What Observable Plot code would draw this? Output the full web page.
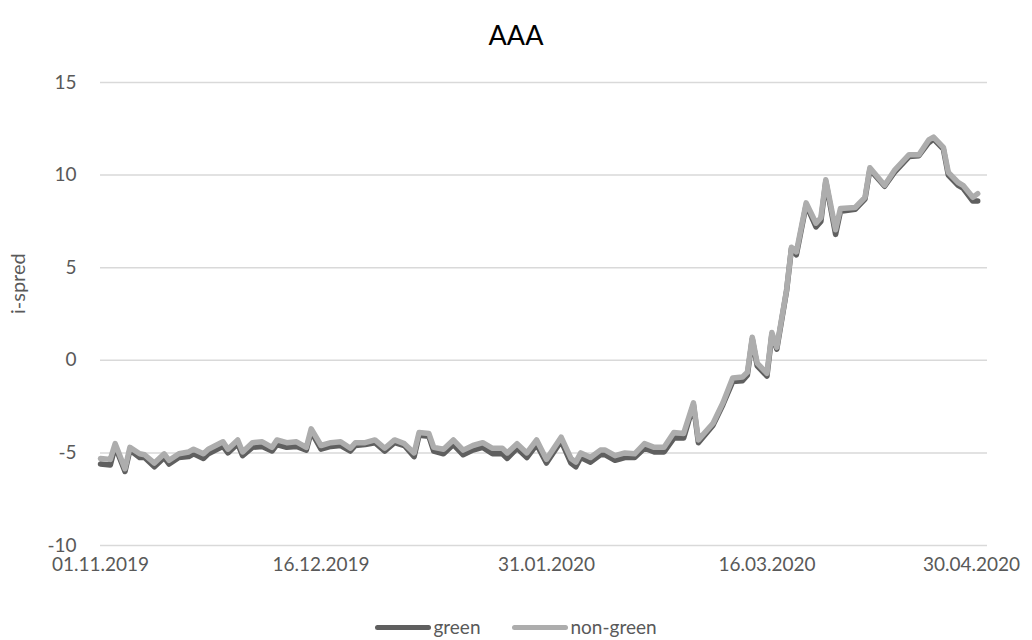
<!DOCTYPE html>
<html><head><meta charset="utf-8">
<script src="https://cdn.jsdelivr.net/npm/d3@7"></script>
<script src="https://cdn.jsdelivr.net/npm/@observablehq/plot@0.6"></script>
<style>
body{margin:0;background:#fff;font-family:Lato, sans-serif;}
#wrap{position:relative;width:1032px;height:640px;overflow:hidden;}
#title{position:absolute;top:0;left:0;width:1032px;height:70px;line-height:70px;text-align:center;font-size:27px;color:#000;}
#chart{position:absolute;top:70px;left:0;}
#legend{position:absolute;top:614px;left:0;width:1032px;height:26px;display:flex;justify-content:center;align-items:center;font-size:19px;color:#595959;line-height:22px;}
.item{display:inline-flex;align-items:center;margin:0 16px;line-height:22px;}
.swatch{display:inline-block;width:56px;height:5px;border-radius:3px;margin-right:2px;}
</style></head>
<body><div id="wrap"><div id="title">AAA</div><div id="chart"></div><div id="legend"></div></div>
<script>
const dates = [
"2019-11-01","2019-11-03","2019-11-04","2019-11-06","2019-11-07","2019-11-09","2019-11-10","2019-11-12","2019-11-14","2019-11-15",
"2019-11-17","2019-11-19","2019-11-20","2019-11-22","2019-11-23","2019-11-26","2019-11-27","2019-11-29","2019-11-30","2019-12-02",
"2019-12-04","2019-12-06","2019-12-07","2019-12-09","2019-12-11","2019-12-13","2019-12-14","2019-12-16","2019-12-18","2019-12-20",
"2019-12-22","2019-12-23","2019-12-25","2019-12-27","2019-12-29","2019-12-31","2020-01-02","2020-01-04","2020-01-05","2020-01-07",
"2020-01-08","2020-01-10","2020-01-12","2020-01-14","2020-01-16","2020-01-18","2020-01-20","2020-01-22","2020-01-23","2020-01-25",
"2020-01-27","2020-01-29","2020-01-31","2020-02-03","2020-02-05","2020-02-06","2020-02-07","2020-02-09","2020-02-11","2020-02-12",
"2020-02-14","2020-02-16","2020-02-18","2020-02-20","2020-02-22","2020-02-24","2020-02-26","2020-02-28","2020-03-01","2020-03-02",
"2020-03-05","2020-03-07","2020-03-09","2020-03-11","2020-03-12","2020-03-13","2020-03-14","2020-03-16","2020-03-17","2020-03-18",
"2020-03-20","2020-03-21","2020-03-22","2020-03-24","2020-03-26","2020-03-27","2020-03-28","2020-03-30","2020-03-31","2020-04-03",
"2020-04-05","2020-04-06","2020-04-09","2020-04-11","2020-04-14","2020-04-16","2020-04-18","2020-04-19","2020-04-21","2020-04-22",
"2020-04-24","2020-04-25","2020-04-27","2020-04-28"
];
const green = [
-5.60,-5.65,-4.65,-6.00,-4.85,-5.25,-5.25,-5.75,-5.25,-5.60,
-5.25,-5.20,-5.05,-5.30,-5.05,-4.65,-5.00,-4.50,-5.15,-4.70,
-4.65,-4.90,-4.55,-4.70,-4.65,-4.85,-3.85,-4.80,-4.65,-4.60,
-4.90,-4.60,-4.55,-4.45,-4.90,-4.45,-4.60,-5.20,-4.05,-4.10,
-4.90,-5.05,-4.55,-5.10,-4.85,-4.70,-5.05,-5.05,-5.30,-4.75,
-5.25,-4.55,-5.55,-4.35,-5.55,-5.75,-5.25,-5.50,-5.10,-5.10,
-5.40,-5.25,-5.25,-4.75,-4.95,-4.95,-4.20,-4.20,-2.40,-4.45,
-3.50,-2.40,-1.15,-1.10,-0.80,1.15,-0.30,-0.85,1.40,0.60,
3.75,6.05,5.70,8.40,7.20,7.50,9.65,6.80,8.05,8.15,
8.70,10.30,9.40,10.15,11.00,11.05,11.75,11.95,11.40,10.00,
9.45,9.30,8.60,8.60
];
const nonGreen = [
-5.30,-5.35,-4.50,-5.85,-4.70,-5.05,-5.10,-5.55,-5.05,-5.40,
-5.05,-4.95,-4.80,-5.05,-4.80,-4.40,-4.80,-4.30,-4.95,-4.45,
-4.40,-4.70,-4.30,-4.45,-4.40,-4.70,-3.70,-4.60,-4.45,-4.40,
-4.75,-4.45,-4.45,-4.30,-4.75,-4.30,-4.50,-5.00,-3.90,-3.95,
-4.70,-4.80,-4.30,-4.85,-4.60,-4.45,-4.75,-4.75,-5.00,-4.50,
-5.00,-4.30,-5.35,-4.15,-5.30,-5.50,-5.00,-5.25,-4.85,-4.85,
-5.15,-5.00,-5.05,-4.50,-4.70,-4.70,-3.90,-3.95,-2.30,-4.30,
-3.40,-2.30,-0.95,-0.90,-0.65,1.25,-0.15,-0.70,1.50,0.70,
3.80,6.10,5.85,8.50,7.40,7.70,9.75,7.05,8.20,8.25,
8.80,10.40,9.45,10.25,11.10,11.10,11.90,12.05,11.50,10.15,
9.60,9.45,8.80,9.00
];
const seriesNames = ["green", "non-green"];
const seriesColors = ["#5f5f5f", "#adadad"];
const yTicks = [-10, -5, 0, 5, 10, 15];
const xTickLabels = ["01.11.2019", "16.12.2019", "31.01.2020", "16.03.2020", "30.04.2020"];
const yLabel = "i-spred";

const parseISO = d3.utcParse("%Y-%m-%d");
const parseTick = d3.utcParse("%d.%m.%Y");
const fmt = d3.utcFormat("%d.%m.%Y");
const xTicks = xTickLabels.map(parseTick);
const rows = [];
const seriesValues = [green, nonGreen];
seriesNames.forEach((s, k) => dates.forEach((d, i) => rows.push({date: parseISO(d), series: s, value: seriesValues[k][i]})));

const chart = Plot.plot({
  width: 1032, height: 515,
  marginLeft: 100, marginRight: 45, marginTop: 12, marginBottom: 40,
  style: {fontFamily: "Lato, sans-serif", fontSize: "19px", color: "#595959", background: "#fff"},
  x: {type: "utc", domain: [xTicks[0], xTicks[xTicks.length - 1]]},
  y: {domain: [-10, 15]},
  color: {domain: seriesNames, range: seriesColors},
  marks: [
    Plot.gridY(yTicks, {stroke: "#d9d9d9", strokeOpacity: 1, strokeWidth: 1.5}),
    Plot.axisY(yTicks, {tickSize: 0, tickPadding: 24, label: null, fill: "#595959", tickFormat: d => String(d)}),
    Plot.axisX(xTicks.slice(0, 4), {tickSize: 0, tickPadding: 12, tickFormat: fmt, label: null, fill: "#595959"}),
    Plot.axisX(xTicks.slice(4), {tickSize: 0, tickPadding: 12, tickFormat: fmt, label: null, fill: "#595959", dx: -16}),
    Plot.line(rows, {x: "date", y: "value", z: "series", stroke: "series", strokeWidth: 5.5, strokeLinejoin: "round", strokeLinecap: "round"}),
    Plot.text([yLabel], {frameAnchor: "left", rotate: -90, dx: -82, fontSize: 20, fill: "#595959"})
  ]
});
document.getElementById("chart").appendChild(chart);

const legend = document.getElementById("legend");
seriesNames.forEach((s, i) => {
  const item = document.createElement("span");
  item.className = "item";
  const sw = document.createElement("span");
  sw.className = "swatch";
  sw.style.background = seriesColors[i];
  item.appendChild(sw);
  item.appendChild(document.createTextNode(s));
  legend.appendChild(item);
});
</script>
</body></html>
